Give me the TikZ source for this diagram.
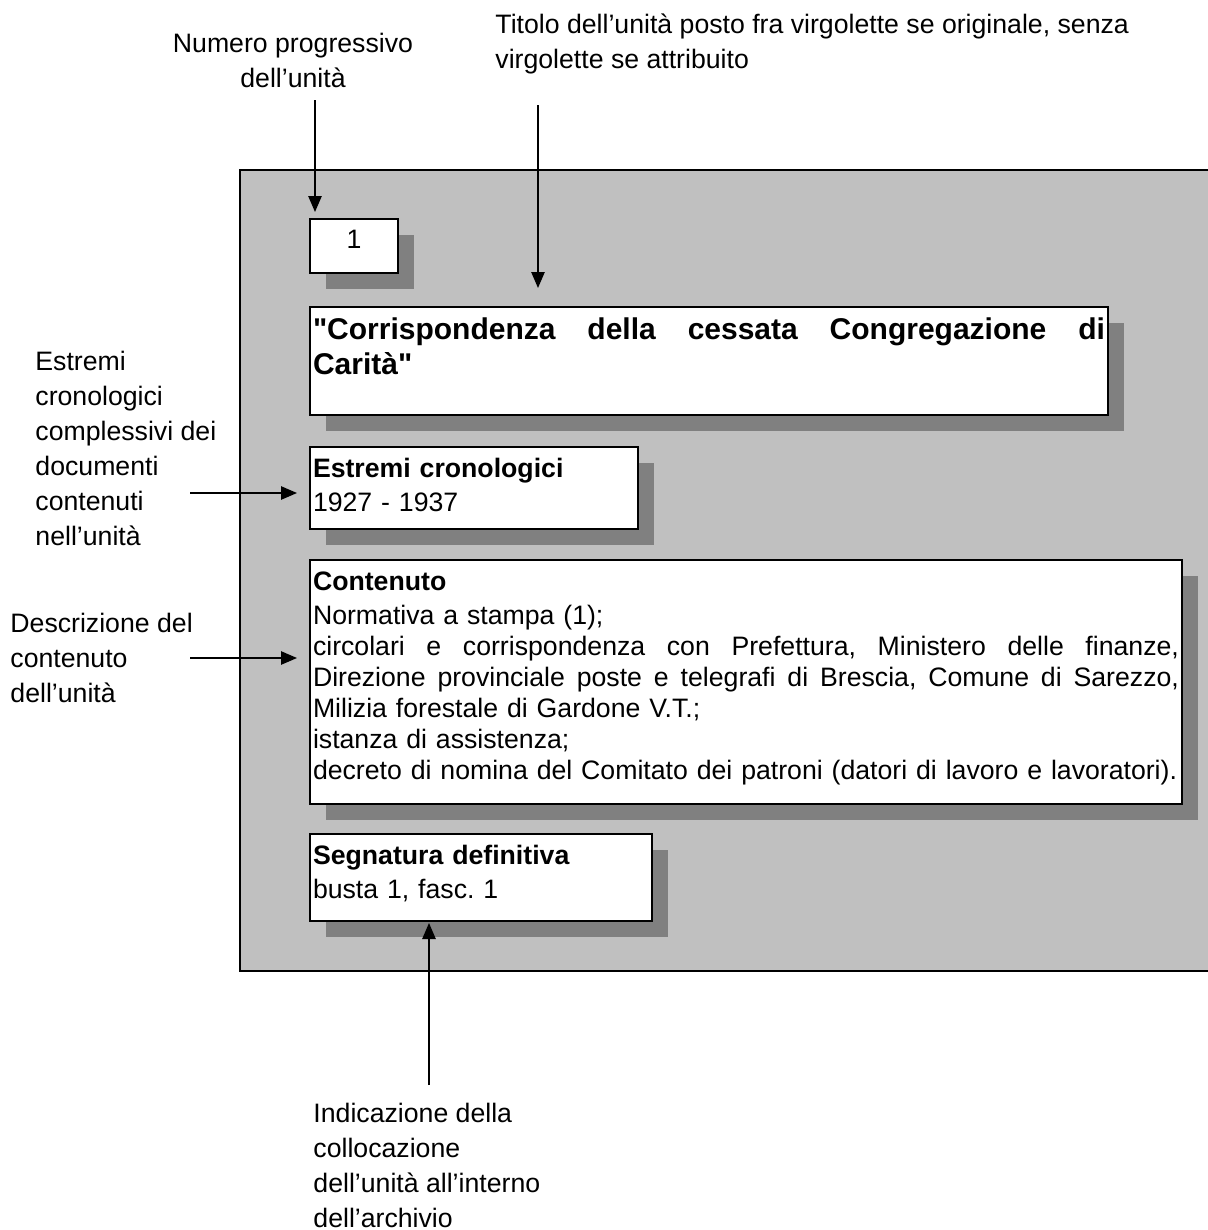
\documentclass[tikz,border=0pt]{standalone}
\usepackage{fontspec}
\setmainfont{Liberation Sans}[Ligatures=TeXOff]
\usetikzlibrary{arrows.meta,shadows}
\definecolor{grigiochiaro}{RGB}{192,192,192}
\definecolor{grigioscuro}{RGB}{128,128,128}
% riga giustificata a larghezza fissa
\newcommand\rigagiusta[2]{\makebox[#1][s]{\spaceskip=0pt\relax\xspaceskip=0pt\relax#2}}
\frenchspacing
\begin{document}
\begin{tikzpicture}[x=0.45pt,y=-0.45pt]
	% Dimensioni (MODIFICABILI)
	\def\Ombra{7.2pt}
	\def\Margine{1.35pt}
	\def\LargTit{356.4pt}
	\def\LargCont{389.7pt}
	% Stili (MODIFICABILI)
	\tikzstyle{fondo}=[fill=grigiochiaro,draw,line width=0.7pt]
	\tikzstyle{scheda}=[fill=white,draw,line width=0.9pt,anchor=north west,inner xsep=\Margine,inner ysep=0pt,align=left,font=\fontsize{12pt}{14pt}\selectfont,drop shadow={shadow xshift=\Ombra,shadow yshift=-\Ombra,fill=grigioscuro,opacity=1}]
	\tikzstyle{titolo}=[scheda,font=\fontsize{13.5pt}{15.75pt}\selectfont\bfseries]
	\tikzstyle{nota}=[inner sep=0pt,anchor=base west,align=left,font=\fontsize{12pt}{15.75pt}\selectfont]
	\tikzstyle{freccia}=[-{Triangle[length=7.2pt,width=6pt]},line width=0.7pt]
	
	\useasboundingbox (0,0) rectangle (1207,1230);
	% Fondo grigio della scheda
	\filldraw[fondo] (240,170) rectangle (1240,971);
	
	% Schede (MODIFICABILI : Stili e testi)
	\node[scheda,align=center,text width=36.9pt,text height=13.05pt,text depth=11.25pt] (num) at (309,218) {1};
	\node[titolo,text width=\LargTit,text height=14.4pt,text depth=34.2pt] (tit) at (309,306) {\rigagiusta{\LargTit}{"Corrispondenza della cessata Congregazione di}\\Carità"};
	\node[scheda,text width=144.9pt,text height=13.5pt,text depth=23.4pt] (estr) at (309,446) {\textbf{Estremi cronologici}\\[1.35pt]1927 - 1937};
	\node[scheda,text width=\LargCont,text height=13.5pt,text depth=96.3pt] (cont) at (309,559) {\textbf{Contenuto}\\[1.35pt]
		Normativa a stampa (1);\\
		\rigagiusta{\LargCont}{circolari e corrispondenza con Prefettura, Ministero delle finanze,}\\
		\rigagiusta{\LargCont}{Direzione provinciale poste e telegrafi di Brescia, Comune di Sarezzo,}\\
		Milizia forestale di Gardone V.T.;\\
		istanza di assistenza;\\
		decreto di nomina del Comitato dei patroni (datori di lavoro e lavoratori).};
	\node[scheda,text width=151.2pt,text height=13.5pt,text depth=25.65pt] (segn) at (309,833) {\textbf{Segnatura definitiva}\\[1.35pt]busta 1, fasc. 1};
	
	% Note esterne (ancorate all'ultima riga)
	\node[nota,anchor=base,align=center] (lblNum) at (293,87) {Numero progressivo\\dell’unità};
	\node[nota] (lblTit) at (495,68) {Titolo dell’unità posto fra virgolette se originale, senza\\virgolette se attribuito};
	\node[nota] (lblEst) at (35,545) {Estremi\\cronologici\\complessivi dei\\documenti\\contenuti\\nell’unità};
	\node[nota] (lblDes) at (10,702) {Descrizione del\\contenuto\\dell’unità};
	\node[nota] (lblInd) at (313,1227) {Indicazione della\\collocazione\\dell’unità all’interno\\dell’archivio};
	
	% Punti delle frecce
	\coordinate (pNum) at (315,100);  \coordinate (qNum) at (315,212);
	\coordinate (pTit) at (538,105);  \coordinate (qTit) at (538,288);
	\coordinate (pEst) at (190,493);  \coordinate (qEst) at (297,493);
	\coordinate (pDes) at (190,658);  \coordinate (qDes) at (297,658);
	\coordinate (pInd) at (429,1085); \coordinate (qInd) at (429,923);
	
	% Frecce
	\draw[freccia] (pNum) -- (qNum);
	\draw[freccia] (pTit) -- (qTit);
	\draw[freccia] (pEst) -- (qEst);
	\draw[freccia] (pDes) -- (qDes);
	\draw[freccia] (pInd) -- (qInd);
\end{tikzpicture}
\end{document}
